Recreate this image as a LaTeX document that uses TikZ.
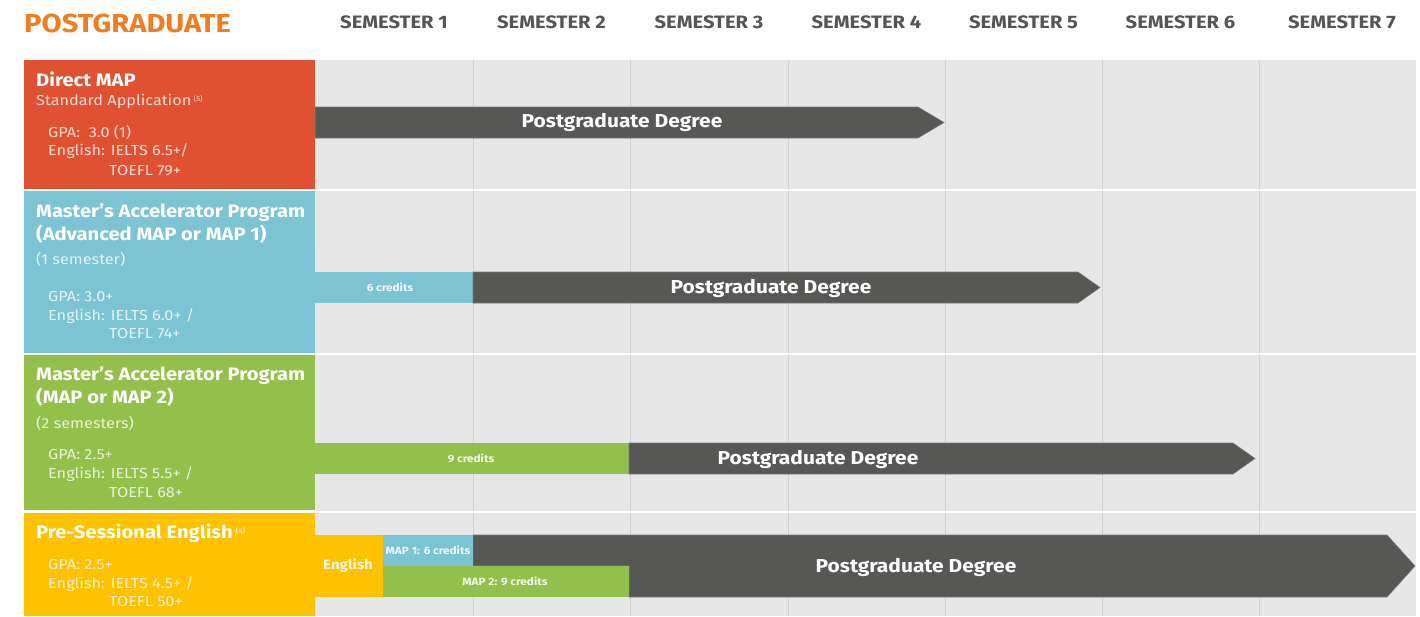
\documentclass[tikz,border=0pt]{standalone}
\usepackage{fontspec}
\setmainfont{Fira Sans}[FakeStretch=1.12]
\definecolor{redp}{HTML}{E05131}
\definecolor{bluep}{HTML}{7CC3D3}
\definecolor{greenp}{HTML}{93C04A}
\definecolor{yelp}{HTML}{FFC200}
\definecolor{dgrey}{HTML}{575755}
\definecolor{orangeT}{HTML}{F07D1F}
\definecolor{semgrey}{HTML}{555555}
\definecolor{bgg}{HTML}{E7E7E7}
\definecolor{gline}{HTML}{D0D0D0}
\begin{document}
\begin{tikzpicture}[x=1pt,y=-1pt,
  hdr/.style={font=\fontsize{18}{18}\selectfont\bfseries, text=semgrey, anchor=base, inner sep=0},
  ttl/.style={font=\fontsize{18}{18}\selectfont\bfseries, text=white, anchor=base west, inner sep=0},
  sub/.style={font=\fontsize{14.5}{14.5}\selectfont, text=white, text opacity=0.8, anchor=base west, inner sep=0},
  bar/.style={fill=dgrey, draw=dgrey!80!white, line width=0.6pt},
  barlbl/.style={font=\fontsize{18.7}{18.7}\selectfont\bfseries, text=white, inner sep=0},
  small/.style={font=\fontsize{10.5}{10.5}\selectfont\bfseries, text=white, text opacity=0.9, inner sep=0},
  mid/.style={font=\fontsize{10.5}{10.5}\selectfont\bfseries, text=white, text opacity=0.9, inner sep=0}
]
\useasboundingbox (0,0) rectangle (1420,616);
\fill[white] (0,0) rectangle (1420,616);
% grid background
\fill[bgg] (315,60) rectangle (1416,616);
\foreach \x in {473,630,788,945,1102,1259} \draw[gline, line width=1pt] (\x,60) -- (\x,616);
\foreach \y in {190,354,511.5} \draw[white, line width=2pt] (315,\y) -- (1416,\y);
% header
\node[font=\fontsize{26}{26}\selectfont\bfseries, text=orangeT, anchor=base west, inner sep=0] (title) at (24,32) {POSTGRADUATE};
\node[hdr] (s1) at (394,28) {SEMESTER 1};
\node[hdr] (s2) at (551.5,28) {SEMESTER 2};
\node[hdr] (s3) at (709,28) {SEMESTER 3};
\node[hdr] (s4) at (866.5,28) {SEMESTER 4};
\node[hdr] (s5) at (1023.5,28) {SEMESTER 5};
\node[hdr] (s6) at (1180.5,28) {SEMESTER 6};
\node[hdr] (s7) at (1342,28) {SEMESTER 7};
% panels
\fill[redp] (24,60) rectangle (315,189);
\fill[bluep] (24,191) rectangle (315,353);
\fill[greenp] (24,355) rectangle (315,510);
\fill[yelp] (24,513) rectangle (315,616);
% row 1 text
\node[ttl] (t1) at (36,86) {Direct MAP};
\node[sub] (t1b) at (36,105) {Standard Application\,\raisebox{4pt}{\fontsize{7}{7}\selectfont(5)}};
\node[sub] (t1c) at (48,137) {GPA:\ \ 3.0 (1)};
\node[sub] (t1d) at (48,155) {English: IELTS 6.5+/};
\node[sub] (t1e) at (109,175) {TOEFL 79+};
% row 2 text
\node[ttl] (t2) at (36,217) {Master’s Accelerator Program};
\node[ttl] (t2a) at (36,240) {(Advanced MAP or MAP 1)};
\node[sub] (t2b) at (36,264) {(1 semester)};
\node[sub] (t2c) at (48,301) {GPA: 3.0+};
\node[sub] (t2d) at (48,320) {English: IELTS 6.0+ /};
\node[sub] (t2e) at (109,338) {TOEFL 74+};
% row 3 text
\node[ttl] (t3) at (36,380) {Master’s Accelerator Program};
\node[ttl] (t3a) at (36,403) {(MAP or MAP 2)};
\node[sub] (t3b) at (36,428) {(2 semesters)};
\node[sub] (t3c) at (48,459) {GPA: 2.5+};
\node[sub] (t3d) at (48,478) {English: IELTS 5.5+ /};
\node[sub] (t3e) at (109,497) {TOEFL 68+};
% row 4 text
\node[ttl] (t4) at (36,538) {Pre-Sessional English\,\raisebox{5pt}{\fontsize{7}{7}\selectfont\mdseries(6)}};
\node[sub] (t4c) at (48,569) {GPA: 2.5+};
\node[sub] (t4d) at (48,588) {English: IELTS 4.5+ /};
\node[sub] (t4e) at (109,606) {TOEFL 50+};
% row 1 bar
\filldraw[bar] (315,107) -- (918,107) -- (944,122.5) -- (918,138) -- (315,138) -- cycle;
\node[barlbl] (pg1) at (622,122.5) {Postgraduate Degree};
% row 2 bars
\fill[bluep] (315,272) rectangle (473,303);
\node[small] (c6) at (390,287.5) {6 credits};
\filldraw[bar] (473,272) -- (1078,272) -- (1100,287.5) -- (1078,303) -- (473,303) -- cycle;
\node[barlbl] (pg2) at (771,288) {Postgraduate Degree};
% row 3 bars
\fill[greenp] (315,443) rectangle (629,474);
\node[small] (c9) at (471,458.5) {9 credits};
\filldraw[bar] (629,443) -- (1233,443) -- (1255,458.5) -- (1233,474) -- (629,474) -- cycle;
\node[barlbl] (pg3) at (818,459) {Postgraduate Degree};
% row 4 bars
\filldraw[bar] (473,535) -- (1387,535) -- (1415,566) -- (1387,597) -- (629,597) -- (629,566) -- (473,566) -- cycle;
\node[barlbl] (pg4) at (916,567) {Postgraduate Degree};
\fill[yelp] (315,535) rectangle (383,597);
\node[font=\fontsize{13.5}{13.5}\selectfont\bfseries, text=white, text opacity=0.9, inner sep=0] (eng) at (348,566) {English};
\fill[bluep] (383,535) rectangle (473,566);
\node[mid] (m1) at (428,550.5) {MAP 1: 6 credits};
\fill[greenp] (383,566) rectangle (629,597);
\node[mid] (m2) at (505,581) {MAP 2: 9 credits};
\end{tikzpicture}
\end{document}
